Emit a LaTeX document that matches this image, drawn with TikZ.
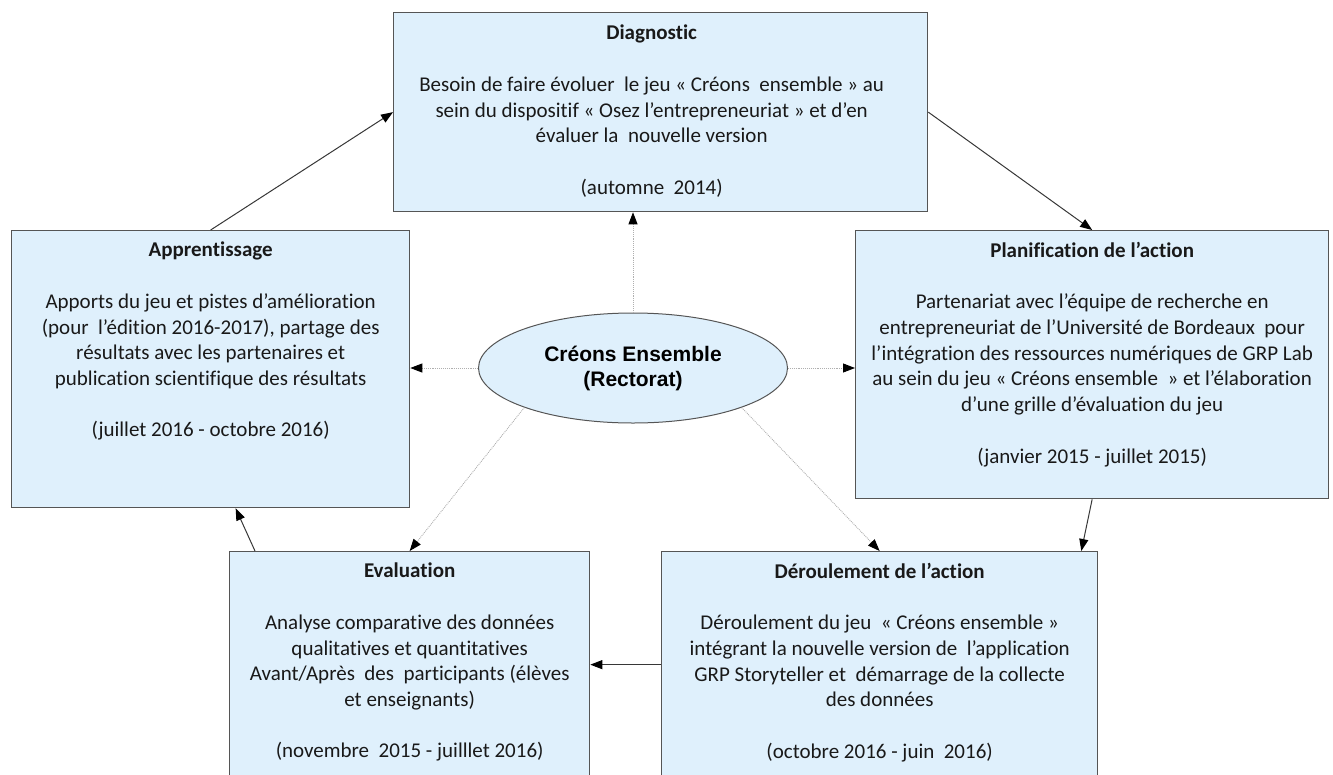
\documentclass[tikz,border=0pt]{standalone}
\usepackage{fontspec}
\setmainfont{Carlito}[Ligatures=NoCommon]
\newfontfamily\ellfont{Liberation Sans}
\usetikzlibrary{arrows.meta,calc,shapes.geometric}
\definecolor{boxfill}{RGB}{223,240,252}
\definecolor{boxline}{RGB}{85,85,85}
\definecolor{dotline}{RGB}{175,175,175}
\definecolor{solidline}{RGB}{55,55,55}
\begin{document}
\begin{tikzpicture}[x=1pt,y=-1pt,
  box/.style={draw=boxline,line width=1.3pt,fill=boxfill,anchor=north west,inner sep=0pt},
  txt/.style={anchor=north,align=center,inner sep=0pt,text=black!90,font=\fontsize{21}{25.7}\selectfont},
  tipa/.style={-{Triangle[length=12pt,width=9pt,color=black]}},
  solidarrow/.style={tipa,draw=solidline,line width=1pt},
  dotarrow/.style={tipa,draw=dotline,line width=0.9pt,densely dotted}]
\useasboundingbox (0,0) rectangle (1333,774);
\clip (0,0) rectangle (1333,774);

% boxes
\node[box,minimum width=534pt,minimum height=199pt] (diag) at (393,12) {};
\node[box,minimum width=398pt,minimum height=277pt] (appr) at (11,230) {};
\node[box,minimum width=473pt,minimum height=268pt] (plan) at (855,230) {};
\node[box,minimum width=360pt,minimum height=226pt] (eval) at (229,551) {};
\node[box,minimum width=436pt,minimum height=226pt] (deroul) at (661,551) {};

% texts
\node[txt] (diagt) at ($(diag.north)+(-9,13)$) {\textbf{Diagnostic}\\\mbox{}\\
  Besoin de faire évoluer~ le jeu « Créons~ ensemble » au\\
  sein du dispositif « Osez l’entrepreneuriat » et d’en\\
  évaluer la~ nouvelle version\\\mbox{}\\
  (automne~ 2014)};
\node[txt] (apprt) at ($(appr.north)+(0,12)$) {\textbf{Apprentissage}\\\mbox{}\\
  Apports du jeu et pistes d’amélioration\\
  (pour~ l’édition 2016-2017), partage des\\
  résultats avec les partenaires et\\
  publication scientifique des résultats\\\mbox{}\\
  (juillet 2016 - octobre 2016)};
\node[txt] (plant) at ($(plan.north)+(0,12)$) {\textbf{Planification de l’action}\\\mbox{}\\
  Partenariat avec l’équipe de recherche en\\
  entrepreneuriat de l’Université de Bordeaux~ pour\\
  l’intégration des ressources numériques de GRP Lab\\
  au sein du jeu « Créons ensemble~ » et l’élaboration\\
  d’une grille d’évaluation du jeu\\\mbox{}\\
  (janvier 2015 - juillet 2015)};
\node[txt] (evalt) at ($(eval.north)+(0,12)$) {\textbf{Evaluation}\\\mbox{}\\
  Analyse comparative des données\\
  qualitatives et quantitatives\\
  Avant/Après~ des~ participants (élèves\\
  et enseignants)\\\mbox{}\\
  (novembre~ 2015 - juilllet 2016)};
\node[txt] (deroult) at ($(deroul.north)+(0,12)$) {\textbf{Déroulement de l’action}\\\mbox{}\\
  Déroulement du jeu~ « Créons ensemble »\\
  intégrant la nouvelle version de~ l’application\\
  GRP Storyteller et~ démarrage de la collecte\\
  des données\\\mbox{}\\
  (octobre 2016 - juin~ 2016)};

% central ellipse
\node[ellipse,draw=boxline,line width=1pt,fill=boxfill,minimum width=309pt,minimum height=110pt,inner sep=0pt,
  align=center,font=\ellfont\bfseries\fontsize{21}{25}\selectfont] (ell) at (633,368) {Créons Ensemble\\(Rectorat)};

% dotted connectors from the centre
\draw[dotarrow] (ell.north) -- (ell.north |- diag.south);
\draw[dotarrow] (ell.west) -- (ell.west -| appr.east);
\draw[dotarrow] (ell.east) -- (ell.east -| plan.west);
\draw[dotarrow] (ell.200) -- (eval.north);
\draw[dotarrow] (ell.340) -- (deroul.north);

% cycle arrows
\coordinate (dtop) at ($(deroul.north east)+(-17,0)$);
\coordinate (etop) at ($(eval.north west)+(26,0)$);
\coordinate (abot) at ($(appr.south)+(25,0)$);
\draw[solidarrow] (appr.north) -- (diag.west);
\draw[solidarrow] (diag.east) -- (plan.north);
\draw[solidarrow] (plan.south) -- (dtop);
\draw[solidarrow] (deroul.west) -- (eval.east);
\draw[solidarrow] (etop) -- (abot);
\end{tikzpicture}
\end{document}
